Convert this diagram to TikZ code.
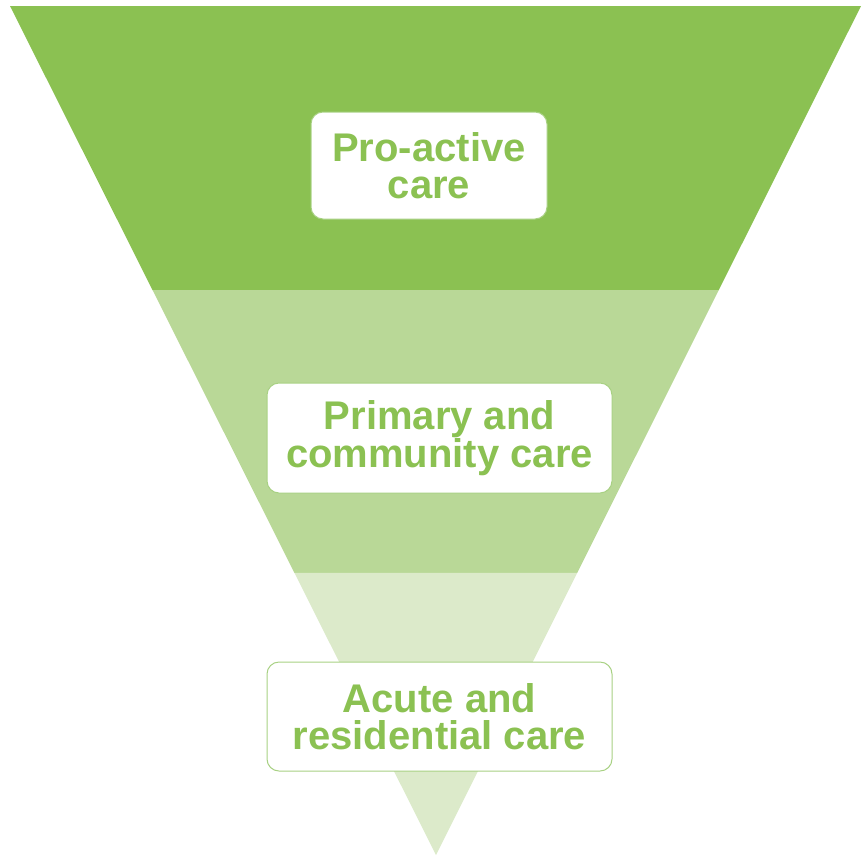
\documentclass[tikz,border=0pt]{standalone}
\usepackage{fontspec}
\setmainfont{Liberation Sans}
\usetikzlibrary{calc}
\definecolor{darkgrass}{HTML}{8BC152}
\definecolor{midgrass}{HTML}{B9D897}
\definecolor{lightgrass}{HTML}{DCEACA}
\definecolor{boxline}{HTML}{A8D183}

\begin{document}
\begin{tikzpicture}[x=1pt, y=-1pt,
        care box/.style={draw=boxline, line width=1pt, fill=white, rounded corners=12pt,
            align=center, inner sep=0pt, text=darkgrass,
            font=\fontsize{40}{37}\selectfont\bfseries}]
        \useasboundingbox (0, 0) rectangle (864, 855);
        \coordinate (L) at (10, 6);
        \coordinate (R) at (861, 6);
        \coordinate (A) at (436, 855);
        \coordinate (L1) at ($(L)!0.3345!(A)$);
        \coordinate (R1) at ($(R)!0.3345!(A)$);
        \coordinate (L2) at ($(L)!0.6678!(A)$);
        \coordinate (R2) at ($(R)!0.6678!(A)$);

        \fill[darkgrass] (L) -- (R) -- (R1) -- (L1) -- cycle;
        \fill[midgrass] (L1) -- (R1) -- (R2) -- (L2) -- cycle;
        \fill[lightgrass] (L2) -- (R2) -- (A) -- cycle;

        \node[care box, minimum width=236pt, minimum height=107pt] (proactive) at (429, 165.5) {Pro-active\\care};
        \node[care box, minimum width=345pt, minimum height=110pt] (primary) at (439.5, 438) {Primary and\\community care};
        \node[care box, minimum width=345pt, minimum height=109pt] (acute) at (439.5, 716.5) {Acute and\\residential care};
    \end{tikzpicture}
\end{document}
